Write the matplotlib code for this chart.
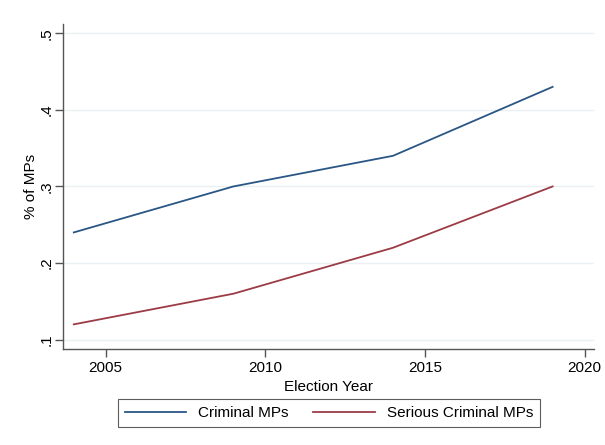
import matplotlib
matplotlib.use("Agg")
import matplotlib.pyplot as plt

plt.rcParams['font.family'] = ['Liberation Sans', 'DejaVu Sans']

years = [2004, 2009, 2014, 2019]
criminal = [0.24, 0.30, 0.34, 0.43]
serious = [0.12, 0.16, 0.22, 0.30]

yticks = [0.1, 0.2, 0.3, 0.4, 0.5]
ytick_labels = ['.1', '.2', '.3', '.4', '.5']
xticks = [2005, 2010, 2015, 2020]

fig = plt.figure(figsize=(6.05, 4.45), dpi=100, facecolor='white')
ax = fig.add_axes([0.104, 0.216, 0.878, 0.730])

ax.plot(years, criminal, color='#2a5685', linewidth=1.3, label='Criminal MPs')
ax.plot(years, serious, color='#9c3b45', linewidth=1.3, label='Serious Criminal MPs')

ax.set_xlim(2003.66, 2020.3)
ax.set_ylim(0.088, 0.512)
ax.set_xticks(xticks)
ax.set_yticks(yticks)
ax.set_yticklabels(ytick_labels, rotation=90, va='center')

ax.yaxis.grid(True, color='#eaf0f3', linewidth=1)
ax.set_axisbelow(True)
for s in ['top', 'right']:
    ax.spines[s].set_visible(False)
for s in ['left', 'bottom']:
    ax.spines[s].set_color('#555555')
    ax.spines[s].set_linewidth(1)
ax.tick_params(length=6, width=1, color='#555555', labelsize=11)
ax.tick_params(axis='y', pad=1)
ax.tick_params(axis='x', pad=3)

ax.set_xlabel('Election Year', fontsize=11, labelpad=3)
ax.set_ylabel('% of MPs', fontsize=11, labelpad=1)

leg = fig.legend(loc='center', bbox_to_anchor=(0.544, 0.072), ncol=2,
                 fontsize=11, frameon=True, fancybox=False,
                 edgecolor='#333333', handlelength=4.0, columnspacing=1.6,
                 borderpad=0.45)
leg.get_frame().set_linewidth(0.8)

fig.savefig('out.png', dpi=100, facecolor='white')
